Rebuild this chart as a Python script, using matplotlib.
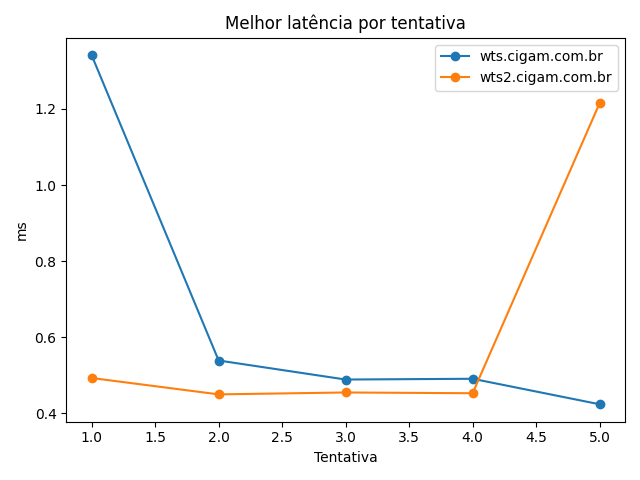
import matplotlib
matplotlib.use("Agg")
import matplotlib.pyplot as plt

tentativas = [1, 2, 3, 4, 5]
wts = [1.341, 0.539, 0.489, 0.491, 0.424]
wts2 = [0.493, 0.450, 0.455, 0.453, 1.215]

fig, ax = plt.subplots(figsize=(6.4, 4.8), dpi=100)
ax.plot(tentativas, wts, marker="o", label="wts.cigam.com.br")
ax.plot(tentativas, wts2, marker="o", label="wts2.cigam.com.br")
ax.set_title("Melhor latência por tentativa")
ax.set_xlabel("Tentativa")
ax.set_ylabel("ms")
ax.legend()
fig.tight_layout()
fig.savefig("out.png")
